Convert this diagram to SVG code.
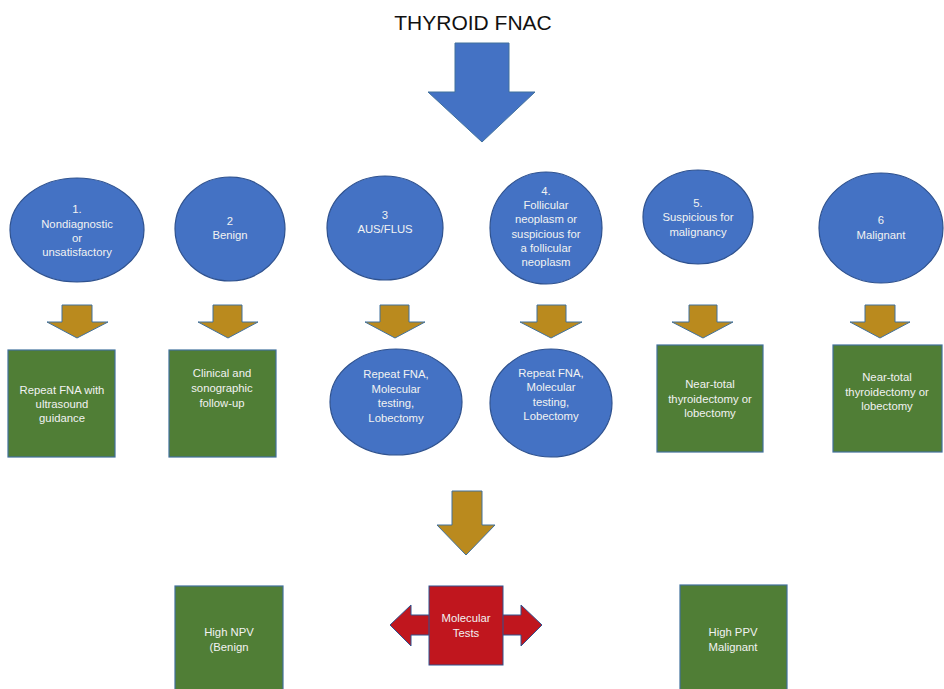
<svg xmlns="http://www.w3.org/2000/svg" width="944" height="689" viewBox="0 0 944 689">
<style>
.ell{fill:#4472C4;stroke:#2F528F;stroke-width:1.2}
.box{fill:#507E36;stroke:#41719C;stroke-width:1.2}
.gold{fill:#BA8A1E;stroke:#41719C;stroke-width:1}
.big{fill:#4472C4;stroke:#41719C;stroke-width:1}
.red{fill:#C0161E;stroke:#2F528F;stroke-width:1}
.t{font-family:"Liberation Sans",Arial,sans-serif;font-size:11.3px;fill:#F2F2F2;text-anchor:middle}
.title{font-family:"Liberation Sans",Arial,sans-serif;font-size:21px;fill:#111;text-anchor:middle}
</style>
<rect width="944" height="689" fill="#fff"/>
<text class="title" x="473" y="30">THYROID FNAC</text>
<g id="connectors">
<polygon class="big" points="455,43 509,43 509,92 535,92 482,142 428,92 455,92"/>
<polygon class="gold" points="62,305 92,305 92,322 108,322 77,338 47,322 62,322"/>
<polygon class="gold" points="213,305 242,305 242,322 258,322 228,338 198,322 213,322"/>
<polygon class="gold" points="380,305 409,305 409,322 425,322 395,338 365,322 380,322"/>
<polygon class="gold" points="537,305 566,305 566,322 582,322 551,338 520,322 537,322"/>
<polygon class="gold" points="689,305 717,305 717,322 733,322 703,338 672,322 689,322"/>
<polygon class="gold" points="865,305 895,305 895,322 910,322 880,338 850,322 865,322"/>
<polygon class="gold" points="452,491 482,491 482,525 495,525 466,555 437,525 452,525"/>
</g>
<g id="n1"><ellipse class="ell" cx="77" cy="230" rx="67" ry="52"/>
<text class="t" x="77" y="213">1.</text><text class="t" x="77" y="228">Nondiagnostic</text><text class="t" x="77" y="242">or</text><text class="t" x="77" y="256">unsatisfactory</text></g>
<g id="n2"><ellipse class="ell" cx="230" cy="229" rx="55" ry="52"/>
<text class="t" x="230" y="225">2</text><text class="t" x="230" y="239">Benign</text></g>
<g id="n3"><ellipse class="ell" cx="385" cy="228" rx="58" ry="52"/>
<text class="t" x="385" y="219">3</text><text class="t" x="385" y="233">AUS/FLUS</text></g>
<g id="n4"><ellipse class="ell" cx="546" cy="228" rx="56" ry="56"/>
<text class="t" x="546" y="195">4.</text><text class="t" x="546" y="209">Follicular</text><text class="t" x="546" y="223">neoplasm or</text><text class="t" x="546" y="238">suspicious for</text><text class="t" x="546" y="252">a follicular</text><text class="t" x="546" y="266">neoplasm</text></g>
<g id="n5"><ellipse class="ell" cx="698" cy="217" rx="55" ry="47"/>
<text class="t" x="698" y="207">5.</text><text class="t" x="698" y="221">Suspicious for</text><text class="t" x="698" y="236">malignancy</text></g>
<g id="n6"><ellipse class="ell" cx="881" cy="228" rx="62" ry="55"/>
<text class="t" x="881" y="224">6</text><text class="t" x="881" y="239">Malignant</text></g>
<g id="r1"><rect class="box" x="8" y="350" width="107" height="107"/>
<text class="t" x="62" y="394">Repeat FNA with</text><text class="t" x="62" y="408">ultrasound</text><text class="t" x="62" y="422">guidance</text></g>
<g id="r2"><rect class="box" x="169" y="350" width="107" height="107"/>
<text class="t" x="222" y="377">Clinical and</text><text class="t" x="222" y="392">sonographic</text><text class="t" x="222" y="407">follow-up</text></g>
<g id="r3"><ellipse class="ell" cx="396" cy="402" rx="66" ry="53"/>
<text class="t" x="396" y="378">Repeat FNA,</text><text class="t" x="396" y="393">Molecular</text><text class="t" x="396" y="407">testing,</text><text class="t" x="396" y="422">Lobectomy</text></g>
<g id="r4"><ellipse class="ell" cx="551" cy="403" rx="61" ry="54"/>
<text class="t" x="551" y="377">Repeat FNA,</text><text class="t" x="551" y="391">Molecular</text><text class="t" x="551" y="406">testing,</text><text class="t" x="551" y="420">Lobectomy</text></g>
<g id="r5"><rect class="box" x="657" y="345" width="106" height="107"/>
<text class="t" x="710" y="388">Near-total</text><text class="t" x="710" y="403">thyroidectomy or</text><text class="t" x="710" y="417">lobectomy</text></g>
<g id="r6"><rect class="box" x="833" y="345" width="109" height="107"/>
<text class="t" x="887" y="381">Near-total</text><text class="t" x="887" y="396">thyroidectomy or</text><text class="t" x="887" y="410">lobectomy</text></g>
<g id="npv"><rect class="box" x="175" y="586" width="108" height="115"/>
<text class="t" x="229" y="636">High NPV</text><text class="t" x="229" y="651">(Benign</text></g>
<g id="mol"><polygon class="red" points="390,625 411,605 411,615 521,615 521,605 542,625 521,646 521,635 411,635 411,646"/>
<rect class="red" x="429" y="586" width="74" height="79"/>
<text class="t" x="466" y="622">Molecular</text><text class="t" x="466" y="637">Tests</text></g>
<g id="ppv"><rect class="box" x="680" y="585" width="107" height="116"/>
<text class="t" x="733" y="636">High PPV</text><text class="t" x="733" y="651">Malignant</text></g>
</svg>
